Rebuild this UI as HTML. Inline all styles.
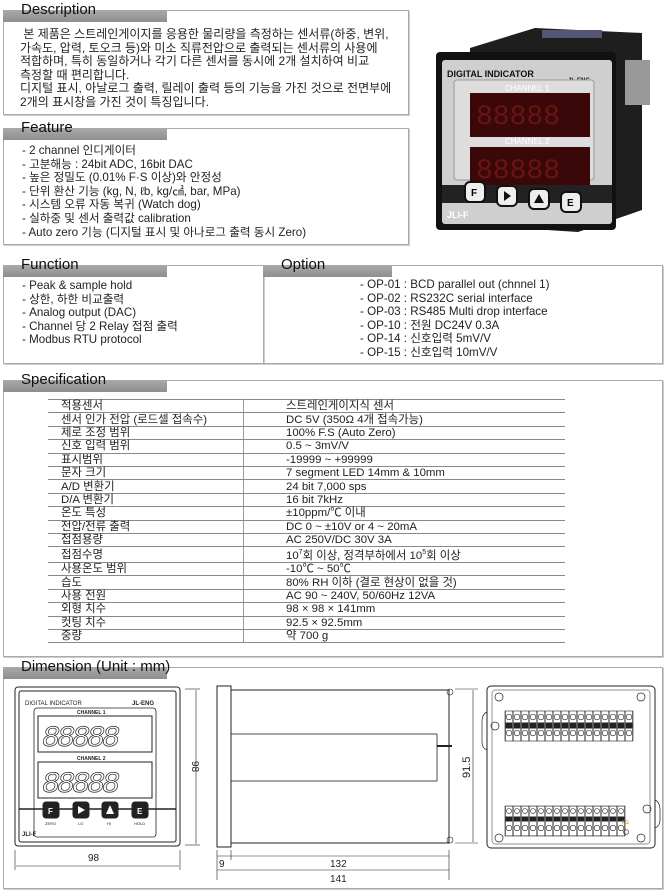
<!DOCTYPE html>
<html><head><meta charset="utf-8"><style>
body{margin:0;width:666px;height:896px;background:#fff;position:relative;overflow:hidden;font-family:"Liberation Sans","Noto Sans CJK KR",sans-serif;color:#222}
.box{position:absolute;border:1px solid #aaa;box-shadow:1px 1px 0 #ccc}
.hd{position:absolute;height:12px;background:linear-gradient(#aaa,#8e8e8e);font-size:15px;line-height:15px;padding-left:18px;color:#111;box-sizing:border-box;width:164px;white-space:nowrap}
.hd span{position:relative;top:-8px}
.t{position:absolute;font-size:11.6px;line-height:13.6px;white-space:pre}
table{position:absolute;left:48px;top:399px;width:517px;border-collapse:collapse;font-size:11.4px}
td{border-top:1px solid #888;border-bottom:1px solid #888;height:12.4px;padding:0 0 0 13px;line-height:12px;white-space:nowrap}
td:first-child{width:182px;border-right:1px solid #999}
td:last-child{padding-left:42px}
</style></head><body>

<div class="box" style="left:3px;top:10px;width:404px;height:103px"></div>
<div class="hd" style="left:3px;top:10px"><span>Description</span></div>
<div class="t" style="left:20px;top:28px;font-size:12px"> 본 제품은 스트레인게이지를 응용한 물리량을 측정하는 센서류(하중, 변위,
가속도, 압력, 토오크 등)와 미소 직류전압으로 출력되는 센서류의 사용에
적합하며, 특히 동일하거나 각기 다른 센서를 동시에 2개 설치하여 비교
측정할 때 편리합니다.
디지털 표시, 아날로그 출력, 릴레이 출력 등의 기능을 가진 것으로 전면부에
2개의 표시창을 가진 것이 특징입니다.</div>

<div class="box" style="left:3px;top:128px;width:404px;height:115px"></div>
<div class="hd" style="left:3px;top:128px"><span>Feature</span></div>
<div class="t" style="left:22px;top:144px">- 2 channel 인디게이터
- 고분해능 : 24bit ADC, 16bit DAC
- 높은 정밀도 (0.01% F·S 이상)와 안정성
- 단위 환산 기능 (kg, N, ℓb, kg/㎠, bar, MPa)
- 시스템 오류 자동 복귀 (Watch dog)
- 실하중 및 센서 출력값 calibration
- Auto zero 기능 (디지털 표시 및 아나로그 출력 동시 Zero)</div>

<div class="box" style="left:3px;top:265px;width:259px;height:97px"></div>
<div class="box" style="left:263px;top:265px;width:398px;height:97px"></div>
<div class="hd" style="left:3px;top:265px"><span>Function</span></div>
<div class="hd" style="left:263px;top:265px;width:129px"><span>Option</span></div>
<div class="t" style="left:22px;top:279px">- Peak &amp; sample hold
- 상한, 하한 비교출력
- Analog output (DAC)
- Channel 당 2 Relay 접점 출력
- Modbus RTU protocol</div>
<div class="t" style="left:360px;top:278px">- OP-01 : BCD parallel out (chnnel 1)
- OP-02 : RS232C serial interface
- OP-03 : RS485 Multi drop interface
- OP-10 : 전원 DC24V 0.3A
- OP-14 : 신호입력 5mV/V
- OP-15 : 신호입력 10mV/V</div>

<div class="box" style="left:3px;top:380px;width:658px;height:275px"></div>
<div class="hd" style="left:3px;top:380px"><span>Specification</span></div>
<table>
<tr><td>적용센서</td><td>스트레인게이지식 센서</td></tr>
<tr><td>센서 인가 전압 (로드셀 접속수)</td><td>DC 5V (350Ω 4개 접속가능)</td></tr>
<tr><td>제로 조정 범위</td><td>100% F.S (Auto Zero)</td></tr>
<tr><td>신호 입력 범위</td><td>0.5 ~ 3mV/V</td></tr>
<tr><td>표시범위</td><td>-19999 ~ +99999</td></tr>
<tr><td>문자 크기</td><td>7 segment  LED 14mm &amp; 10mm</td></tr>
<tr><td>A/D 변환기</td><td>24 bit 7,000 sps</td></tr>
<tr><td>D/A 변환기</td><td>16 bit 7kHz</td></tr>
<tr><td>온도 특성</td><td>±10ppm/℃ 이내</td></tr>
<tr><td>전압/전류 출력</td><td>DC 0 ~ ±10V or 4 ~ 20mA</td></tr>
<tr><td>접점용량</td><td>AC 250V/DC 30V 3A</td></tr>
<tr><td>접점수명</td><td>10<sup style="font-size:7px">7</sup>회 이상, 정격부하에서 10<sup style="font-size:7px">5</sup>회 이상</td></tr>
<tr><td>사용온도 범위</td><td>-10℃ ~ 50℃</td></tr>
<tr><td>습도</td><td>80% RH 이하 (결로 현상이 없을 것)</td></tr>
<tr><td>사용 전원</td><td>AC 90 ~ 240V, 50/60Hz 12VA</td></tr>
<tr><td>외형 치수</td><td>98 × 98 × 141mm</td></tr>
<tr><td>컷팅 치수</td><td>92.5 × 92.5mm</td></tr>
<tr><td>중량</td><td>약 700 g</td></tr>
</table>

<div class="box" style="left:3px;top:667px;width:658px;height:220px"></div>
<div class="hd" style="left:3px;top:667px"><span>Dimension (Unit : mm)</span></div>

<!-- photo -->
<svg style="position:absolute;left:410px;top:0" width="256" height="250" viewBox="0 0 256 250">
<polygon points="60,48 125,28 232,33 232,210 168,232 60,225" fill="#1e1e1e"/>
<rect x="215" y="60" width="25" height="45" fill="#999"/>
<rect x="132" y="30" width="60" height="8" fill="#557"/>
<rect x="26" y="52" width="180" height="178" rx="4" fill="#111"/>
<rect x="32" y="60" width="170" height="164" rx="3" fill="#cfcfcf"/>
<text x="37" y="77" font-size="9" font-weight="bold" fill="#111">DIGITAL INDICATOR</text>
<text x="158" y="82" font-size="6" font-weight="bold" fill="#111">JL-ENG</text>
<rect x="44" y="80" width="140" height="100" rx="3" fill="#ddd" stroke="#999"/>
<text x="95" y="91" font-size="8" fill="#fff">CHANNEL 1</text>
<rect x="60" y="93" width="120" height="44" fill="#3a0808"/>
<text x="66" y="124" font-size="28" fill="#6a1414" font-family="Liberation Mono">88888</text>
<text x="95" y="144" font-size="8" fill="#fff">CHANNEL 2</text>
<rect x="60" y="147" width="120" height="43" fill="#3a0808"/>
<text x="66" y="178" font-size="28" fill="#6a1414" font-family="Liberation Mono">88888</text>
<rect x="32" y="185" width="170" height="18" fill="#222"/>
<rect x="55" y="182" width="20" height="20" rx="5" fill="#eee" stroke="#111" stroke-width="2"/><text x="61" y="196" font-size="10" font-weight="bold">F</text>
<rect x="87" y="186" width="20" height="20" rx="5" fill="#eee" stroke="#111" stroke-width="2"/><polygon points="94,191 94,201 101,196" fill="#111"/>
<rect x="119" y="189" width="20" height="20" rx="5" fill="#eee" stroke="#111" stroke-width="2"/><polygon points="129,194 124,203 134,203" fill="#111"/>
<rect x="151" y="192" width="20" height="20" rx="5" fill="#eee" stroke="#111" stroke-width="2"/><text x="157" y="206" font-size="10" font-weight="bold">E</text>
<text x="37" y="218" font-size="9" font-weight="bold" fill="#fff">JLI-F</text>
</svg>

<!-- dimension drawings -->
<svg style="position:absolute;left:0;top:680px" width="666" height="216" viewBox="0 680 666 216" font-family="Liberation Sans" fill="none" stroke="#222">
<rect x="15" y="687" width="165" height="159" rx="3"/>
<rect x="19" y="691" width="157" height="151" rx="2"/>
<text x="25" y="705" font-size="6" fill="#222" stroke="none">DIGITAL INDICATOR</text>
<text x="132" y="705" font-size="6" font-weight="bold" fill="#222" stroke="none">JL-ENG</text>
<rect x="34" y="708" width="122" height="129" rx="3" stroke-width="0.8"/>
<text x="77" y="714" font-size="5" font-weight="bold" fill="#222" stroke="none">CHANNEL 1</text>
<rect x="38" y="716" width="114" height="36"/>
<text x="42" y="746" font-size="30" fill="none" stroke="#222" stroke-width="0.7" font-family="Liberation Mono" font-style="italic" letter-spacing="-3">88888</text>
<text x="77" y="760" font-size="5" font-weight="bold" fill="#222" stroke="none">CHANNEL 2</text>
<rect x="38" y="762" width="114" height="36"/>
<text x="42" y="792" font-size="30" fill="none" stroke="#222" stroke-width="0.7" font-family="Liberation Mono" font-style="italic" letter-spacing="-3">88888</text>
<line x1="19" y1="809" x2="176" y2="809" stroke-width="1.5"/>
<rect x="43" y="802" width="16" height="16" rx="3" fill="#222"/>
<rect x="73" y="802" width="16" height="16" rx="3" fill="#222"/>
<rect x="102" y="802" width="16" height="16" rx="3" fill="#222"/>
<rect x="132" y="802" width="16" height="16" rx="3" fill="#222"/>
<text x="48" y="814" font-size="8" font-weight="bold" fill="#fff" stroke="none">F</text>
<polygon points="78,806 78,814 85,810" fill="#fff" stroke="none"/>
<polygon points="110,805 106,814 114,814" fill="#fff" stroke="none"/>
<text x="137" y="814" font-size="8" font-weight="bold" fill="#fff" stroke="none">E</text>
<text x="45" y="825" font-size="4" fill="#222" stroke="none">ZERO</text><text x="78" y="825" font-size="4" fill="#222" stroke="none">LO</text><text x="107" y="825" font-size="4" fill="#222" stroke="none">HI</text><text x="134" y="825" font-size="4" fill="#222" stroke="none">HOLD</text>
<text x="22" y="836" font-size="6" font-weight="bold" fill="#222" stroke="none">JLI-F</text>
<line x1="185" y1="689" x2="200" y2="689" stroke-width="0.6"/><line x1="185" y1="845" x2="200" y2="845" stroke-width="0.6"/>
<line x1="196" y1="690" x2="196" y2="844" stroke-width="0.6"/>
<text x="192" y="761" font-size="10" fill="#222" stroke="none" transform="rotate(90 192 761)">98</text>
<line x1="15" y1="850" x2="15" y2="870" stroke-width="0.6"/><line x1="180" y1="850" x2="180" y2="870" stroke-width="0.6"/>
<line x1="16" y1="866" x2="179" y2="866" stroke-width="0.6"/>
<text x="88" y="861" font-size="10" fill="#222" stroke="none">98</text>
<!-- side -->
<rect x="217" y="686" width="14" height="161"/>
<rect x="231" y="690" width="218" height="153"/>
<rect x="231" y="734" width="206" height="47" stroke-width="0.8"/>
<line x1="437" y1="746" x2="452" y2="746" stroke-width="2"/>
<circle cx="450" cy="692" r="3" stroke-width="0.6"/><circle cx="450" cy="840" r="3" stroke-width="0.6"/>
<line x1="455" y1="689" x2="478" y2="689" stroke-width="0.6"/><line x1="455" y1="843" x2="478" y2="843" stroke-width="0.6"/>
<line x1="473" y1="690" x2="473" y2="842" stroke-width="0.6"/>
<text x="470" y="778" font-size="11" fill="#222" stroke="none" transform="rotate(-90 470 778)">91.5</text>
<line x1="217" y1="850" x2="217" y2="880" stroke-width="0.6"/><line x1="231" y1="850" x2="231" y2="860" stroke-width="0.6"/><line x1="449" y1="850" x2="449" y2="880" stroke-width="0.6"/>
<line x1="217" y1="856" x2="449" y2="856" stroke-width="0.6"/>
<line x1="217" y1="870" x2="449" y2="870" stroke-width="0.6"/>
<text x="219" y="867" font-size="10" fill="#222" stroke="none">9</text>
<text x="330" y="867" font-size="10" fill="#222" stroke="none">132</text>
<text x="330" y="882" font-size="10" fill="#222" stroke="none">141</text>
<!-- back -->
<rect x="487" y="686" width="168" height="162" rx="4"/>
<rect x="492" y="690" width="158" height="154" rx="3" stroke-width="0.5"/>
<defs><pattern id="tp" x="505" y="705" width="8" height="40" patternUnits="userSpaceOnUse"><rect x="0.5" y="0" width="7" height="40" fill="#fff" stroke="#222" stroke-width="0.5"/><circle cx="4" cy="12" r="2.8" stroke="#222" stroke-width="0.6"/><rect x="1" y="18" width="6" height="5" fill="#222"/><circle cx="4" cy="28" r="2.8" stroke="#222" stroke-width="0.6"/></pattern>
<pattern id="bp" x="505" y="806" width="8" height="30" patternUnits="userSpaceOnUse"><rect x="0.5" y="0" width="7" height="30" fill="#fff" stroke="#222" stroke-width="0.5"/><circle cx="4" cy="5" r="2.5" stroke="#222" stroke-width="0.6"/><rect x="1" y="11" width="6" height="4" fill="#222"/><circle cx="4" cy="22" r="2.8" stroke="#222" stroke-width="0.6"/></pattern></defs>
<rect x="505" y="711" width="128" height="30" fill="url(#tp)" stroke="#222" stroke-width="0.6"/>
<rect x="505" y="806" width="120" height="30" fill="url(#bp)" stroke="#222" stroke-width="0.6"/>
<circle cx="626" cy="832" r="2.5" stroke-width="0.6"/>
<text x="622" y="824" font-size="5" fill="#d08000" stroke="none">FG</text>
<g stroke-width="0.7"><circle cx="499" cy="697" r="4"/><circle cx="641" cy="697" r="4"/><circle cx="499" cy="838" r="4"/><circle cx="641" cy="838" r="4"/><circle cx="495" cy="726" r="4"/><circle cx="647" cy="809" r="4"/></g>
<path d="M487 712 q-5 2 -5 10 v20 q0 6 5 8 M655 800 q5 2 5 10 v10 q0 6 -5 8" stroke-width="0.7"/>
</svg>
</body></html>
